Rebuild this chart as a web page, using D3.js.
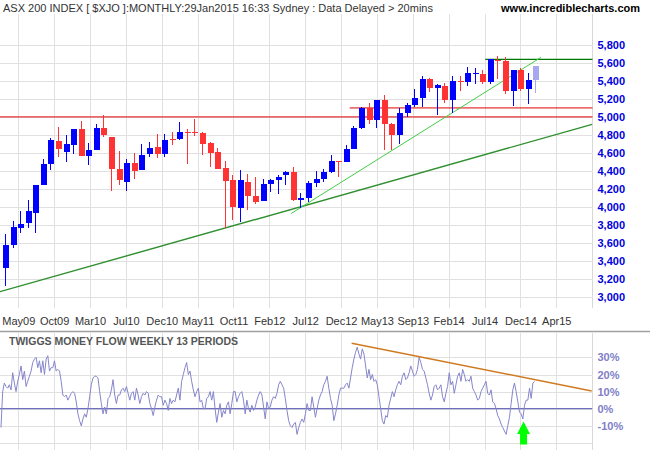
<!DOCTYPE html>
<html>
<head>
<meta charset="utf-8">
<script src="https://cdn.jsdelivr.net/npm/d3@7"></script>
<style>
	body { margin: 0; background: #fff; }
	svg { display: block; font-family: "Liberation Sans", Arial, sans-serif; }
	.grid line { stroke: #e0e0e0; shape-rendering: crispEdges; }
	.grid .domain { display: none; }
</style>
</head>
<body>
<script>
// monthly candles, Mar09 .. Jan15 (last one is the month in progress)
const open  = [3323, 3579, 3768, 3824, 3935, 4246, 4480, 4732, 4613, 4691,
	4866, 4569, 4636, 4877, 4780, 4421, 4280, 4487, 4412, 4591, 4665, 4591,
	4751, 4754, 4836, 4833, 4825, 4710, 4610, 4432, 4298, 3990, 4276, 4120,
	4068, 4254, 4298, 4350, 4387, 4076, 4098, 4265, 4309, 4391, 4506, 4502,
	4643, 4880, 5096, 4969, 5188, 4925, 4799, 5047, 5133, 5214, 5425, 5320,
	5344, 5188, 5403, 5392, 5485, 5477, 5392, 5633, 5622, 5292, 5522, 5311,
	5411];
const high  = [3698, 3842, 3953, 4079, 4243, 4532, 4765, 4892, 4799, 4866,
	4955, 4710, 4921, 5021, 4780, 4621, 4532, 4595, 4699, 4721, 4814, 4810,
	4832, 4943, 4866, 4977, 4835, 4717, 4654, 4510, 4354, 4410, 4365, 4332,
	4309, 4309, 4350, 4398, 4439, 4150, 4290, 4398, 4417, 4576, 4510, 4688,
	4903, 5112, 5151, 5188, 5244, 4935, 5095, 5151, 5311, 5455, 5437, 5370,
	5381, 5455, 5455, 5555, 5548, 5526, 5641, 5678, 5667, 5522, 5540, 5485,
	5570];
const low   = [3123, 3546, 3714, 3768, 3714, 4246, 4410, 4558, 4502, 4591,
	4569, 4465, 4636, 4780, 4180, 4246, 4180, 4309, 4412, 4550, 4543, 4558,
	4691, 4743, 4476, 4788, 4576, 4447, 4424, 3761, 3853, 3835, 3965, 4035,
	4068, 4168, 4146, 4246, 4068, 3983, 4057, 4224, 4272, 4372, 4336, 4502,
	4643, 4866, 4925, 4880, 4632, 4632, 4702, 4999, 5112, 5112, 5281, 5021,
	5155, 5047, 5292, 5348, 5370, 5370, 5370, 5425, 5259, 5125, 5288, 5147,
	5270];
const close = [3575, 3775, 3809, 3953, 4243, 4476, 4743, 4647, 4699, 4866,
	4569, 4632, 4877, 4799, 4424, 4302, 4491, 4402, 4576, 4654, 4591, 4743,
	4740, 4832, 4829, 4826, 4699, 4602, 4424, 4291, 4002, 4298, 4124, 4057,
	4254, 4298, 4332, 4387, 4076, 4095, 4265, 4309, 4391, 4510, 4500, 4643,
	4877, 5099, 4969, 5188, 4917, 4803, 5044, 5133, 5210, 5422, 5325, 5352,
	5192, 5400, 5395, 5485, 5492, 5392, 5641, 5625, 5292, 5522, 5311, 5411,
	5566];

const priceTicks = [3000, 3200, 3400, 3600, 3800, 4000, 4200, 4400, 4600,
	4800, 5000, 5200, 5400, 5600, 5800];

// x gridlines, in months since Mar09
const tickLabels = ["May09", "Oct09", "Mar10", "Jul10", "Dec10", "May11", "Oct11",
	"Feb12", "Jul12", "Dec12", "May13", "Sep13", "Feb14", "Jul14", "Dec14", "Apr15"];
const tickMonths = [1.76, 6.49, 11.22, 15.96, 20.69, 25.43, 30.16, 34.89, 39.63,
	44.36, 49.10, 53.83, 58.56, 63.30, 68.03, 72.77];

// drawn lines: [month, price]
const supportLines = [[[-10, 5000], [80, 5000]], [[45.5, 5100], [80, 5100]]];
const resistLine = [[63.4, 5641], [80, 5641]];
const longTrend = [[-0.66, 3056], [77.5, 4917]];
const shortTrend = [[37.75, 3924], [70.75, 5663]];

// Twiggs money flow, weekly %, first week of Mar09 to last week of Jan15
const flowSpan = [-0.53, 69.9];
const moneyFlow = [
	-11, 10, 15, 13, 12, 14, 11, 21, 15, 10, 16, 20, 25, 17, 22, 13, 16, 19, 22, 27,
	29, 30, 24, 28, 21, 28, 20, 29, 31, 22, 24, 24, 28, 22, 23, 22, 16, 8, 7, 8,
	5, 7, 9, 10, 9, 4, -3, -7, -10, -6, -3, -5, 0, 7, 14, 18, 19, 19, 18, 10,
	3, -3, 1, -3, 6, 7, 11, 17, 8, 3, 8, 8, 11, 12, 10, 13, 9, 5, 9, 10,
	5, 12, 8, 3, 7, 9, 8, 10, 9, 3, 0, -4, 1, 5, 8, 7, 7, 2, 5, 3,
	-1, 6, 3, 5, 4, 8, 12, 5, 16, 20, 24, 27, 20, 22, 16, 11, 7, 10, 12, 4,
	5, 0, 0, 6,
	7, 10, 5, 10, 0, -8, -2, 3, -5, -1, -3, 2, 4, -3, 3, 10, 10, 4, 7, 9,
	10, 5, -3, 5, 0, -2, 2, -1, 1, 5, 8, 10, 8, 1, -6, 4, 0, 1, 5, 7,
	6, 9, 14, 16, 14, 12, 6, -1, -7, -10, -11, -9, -8, -15, -11, -8, -6, -8, -3, 3,
	-1, -1, 7, 1, -5, 0, 5, 8, 10, 14, 16, 19, 12, 6, 2, -7, -3, 2, 8, 12,
	12, 12, 14, 15, 12, 18, 24, 29, 33, 36, 32, 29, 35, 32, 25, 18, 23, 17, 20, 16,
	17, 14, 7, 0, -7, -9, -4, -5, 2, 6, 10, 7, 11, 14, 16, 14, 19, 21, 17, 18,
	21, 25, 22, 19, 20, 23, 30, 27, 23, 22, 18, 14, 9, 5, 8, 13, 14, 11, 12, 14,
	7, 4, 9, 13, 21, 14, 16, 9, 14, 19, 21, 16, 23, 20, 16, 17, 16, 19, 12, 10,
	8, 5, 6, 10, 12, 14, 16, 9, 8, 11, 4, 3, 0, -4, -6, -9, -11, -13, -15, -10,
	-5, 3, 11, 15, 10, 4, -2, -3, -6, 2, 5, 5, 12, 6, 15, 16];
const flowTicks = [-20, -10, 0, 10, 20, 30];
const flowTrend = [[45.76, 38.3], [77.44, 10.4]];
const arrowAt = [68.45, -7.5];

const width = 650, height = 450;
const plot = { left: 0, right: 592.5, top: 14, bottom: 308 };
const flow = { top: 333, bottom: 450 };

const x = d3.scaleLinear().domain([0, close.length - 1]).range([5, 535.3]);
const y = d3.scaleLinear().domain([3000, 5800]).range([296.7, 45]);
const yFlow = d3.scaleLinear().domain([-20, 30]).range([442.9, 357.4]);
const xWeek = d3.scaleLinear().domain([0, moneyFlow.length - 1]).range(flowSpan.map(x));

let svg = d3.select("body")
	.append("svg")
		.attr("width", width)
		.attr("height", height);

svg.append("text")
	.attr("x", 3)
	.attr("y", 12)
	.attr("font-size", 11)
	.attr("fill", "#333")
	.text("ASX 200 INDEX [ $XJO ]:MONTHLY:29Jan2015 16:33 Sydney : Data Delayed > 20mins");
svg.append("text")
	.attr("x", 640)
	.attr("y", 12)
	.attr("text-anchor", "end")
	.attr("font-size", 11)
	.attr("font-weight", "bold")
	.attr("fill", "#000")
	.text("www.incrediblecharts.com");

let defs = svg.append("defs");
defs.append("clipPath").attr("id", "clip-main")
	.append("rect")
		.attr("x", plot.left).attr("y", plot.top)
		.attr("width", plot.right - plot.left).attr("height", plot.bottom - plot.top);
defs.append("clipPath").attr("id", "clip-flow")
	.append("rect")
		.attr("x", plot.left).attr("y", flow.top)
		.attr("width", plot.right - plot.left).attr("height", flow.bottom - flow.top);

// grids
for (let [top, bottom] of [[plot.top, plot.bottom], [flow.top, flow.bottom]]) {
	svg.append("g")
		.attr("class", "grid")
		.attr("transform", `translate(0, ${bottom})`)
		.call(d3.axisBottom(x).tickValues(tickMonths).tickSize(-(bottom - top)).tickFormat(""));
	svg.append("line")
		.attr("x1", plot.right).attr("x2", plot.right)
		.attr("y1", top).attr("y2", bottom)
		.attr("stroke", "#d8d8d8")
		.attr("shape-rendering", "crispEdges");
}
svg.append("g")
	.attr("class", "grid")
	.attr("transform", `translate(${plot.right}, 0)`)
	.call(d3.axisLeft(y).tickValues(priceTicks).tickSize(plot.right - plot.left).tickFormat(""));
svg.append("g")
	.attr("class", "grid")
	.attr("transform", `translate(${plot.right}, 0)`)
	.call(d3.axisLeft(yFlow).tickValues(flowTicks).tickSize(plot.right - plot.left).tickFormat(""));

// axes labels
let axisY = svg.append("g")
	.attr("transform", `translate(${plot.right}, 0)`)
	.call(d3.axisRight(y).tickValues(priceTicks).tickSize(0).tickPadding(5).tickFormat(d3.format(",")));
axisY.select(".domain").remove();
axisY.selectAll("text")
	.attr("font-family", null)
	.attr("font-size", 11)
	.attr("font-weight", "bold")
	.attr("fill", "#0000dd");

let axisFlow = svg.append("g")
	.attr("transform", `translate(${plot.right}, 0)`)
	.call(d3.axisRight(yFlow).tickValues(flowTicks.slice(1)).tickSize(0).tickPadding(5).tickFormat(d => d + "%"));
axisFlow.select(".domain").remove();
axisFlow.selectAll("text")
	.attr("font-family", null)
	.attr("font-size", 11)
	.attr("font-weight", "bold")
	.attr("fill", "#8080c8");

let axisX = svg.append("g")
	.attr("transform", `translate(0, ${plot.bottom + 6})`)
	.call(d3.axisBottom(x).tickValues(tickMonths).tickSize(0).tickPadding(3).tickFormat((d, i) => tickLabels[i]));
axisX.select(".domain").remove();
axisX.selectAll("text")
	.attr("font-family", null)
	.attr("font-size", 11)
	.attr("fill", "#333");

svg.append("line")
	.attr("x1", 0).attr("x2", width)
	.attr("y1", 331.5).attr("y2", 331.5)
	.attr("stroke", "#a0a0a0")
	.attr("stroke-width", 1.5);

// price panel
let main = svg.append("g").attr("clip-path", "url(#clip-main)");
let line = d3.line().x(d => x(d[0])).y(d => y(d[1]));

for (let points of supportLines) {
	main.append("path")
		.attr("d", line(points))
		.attr("stroke", "#e00000")
		.attr("stroke-width", 1)
		.attr("fill", "none");
}
main.append("path")
	.attr("d", line(resistLine))
	.attr("stroke", "#007700")
	.attr("stroke-width", 1.3)
	.attr("fill", "none");
main.append("path")
	.attr("d", line(longTrend))
	.attr("stroke", "#2f8f2f")
	.attr("stroke-width", 1.4)
	.attr("fill", "none");
main.append("path")
	.attr("d", line(shortTrend))
	.attr("stroke", "#44cc44")
	.attr("stroke-width", 1)
	.attr("fill", "none");

let last = close.length - 1;
let color = i => i === last ? "#a8a8f0" : (close[i] >= open[i] ? "#0000ff" : "#ff3333");
let candles = main.append("g")
	.selectAll("g")
		.data(d3.range(close.length))
		.enter()
		.append("g")
			.attr("fill", color)
			.attr("stroke", color);
candles.append("line")
	.attr("x1", i => Math.round(x(i)) + 0.5)
	.attr("x2", i => Math.round(x(i)) + 0.5)
	.attr("y1", i => y(high[i]))
	.attr("y2", i => y(low[i]))
	.attr("shape-rendering", "crispEdges");
candles.append("rect")
	.attr("x", i => Math.round(x(i)) - 2.5)
	.attr("y", i => y(Math.max(open[i], close[i])))
	.attr("width", 6)
	.attr("height", i => Math.max(1, Math.abs(y(open[i]) - y(close[i]))))
	.attr("stroke", "none")
	.attr("shape-rendering", "crispEdges");

// money flow panel
let lower = svg.append("g").attr("clip-path", "url(#clip-flow)");
lower.append("line")
	.attr("x1", plot.left).attr("x2", plot.right)
	.attr("y1", yFlow(0)).attr("y2", yFlow(0))
	.attr("stroke", "#6f6fbf")
	.attr("stroke-width", 1.3);
lower.append("path")
	.datum(moneyFlow)
	.attr("d", d3.line().x((d, i) => xWeek(i)).y(d => yFlow(d)))
	.attr("stroke", "#8585cc")
	.attr("stroke-width", 1)
	.attr("fill", "none");
lower.append("path")
	.attr("d", d3.line().x(d => x(d[0])).y(d => yFlow(d[1]))(flowTrend))
	.attr("stroke", "#d07a20")
	.attr("stroke-width", 1.5)
	.attr("fill", "none");

let ax = x(arrowAt[0]), ay = yFlow(arrowAt[1]);
lower.append("path")
	.attr("d", `M${ax},${ay} l6.5,12.5 h-3 v10.5 h-7 v-10.5 h-3 Z`)
	.attr("fill", "#00ff00");

svg.append("text")
	.attr("x", 9)
	.attr("y", 345)
	.attr("font-size", 10.5)
	.attr("font-weight", "bold")
	.attr("fill", "#555")
	.text("TWIGGS MONEY FLOW WEEKLY 13 PERIODS");
</script>
</body>
</html>
